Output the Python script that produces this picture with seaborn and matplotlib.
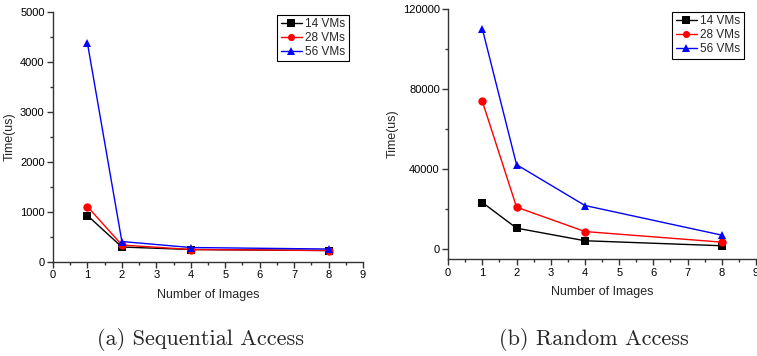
import numpy as np
import pandas as pd
import matplotlib
matplotlib.use("Agg")
import matplotlib.pyplot as plt
from matplotlib.ticker import MultipleLocator
import seaborn as sns

images = [1, 2, 4, 8]
series = ["14 VMs", "28 VMs", "56 VMs"]

# Sequential access, time in us
seq_14 = [930, 300, 250, 230]
seq_28 = [1110, 340, 250, 230]
seq_56 = [4380, 410, 290, 260]

# Random access, time in us
rnd_14 = [23300, 10500, 4200, 1700]
rnd_28 = [73800, 21000, 8800, 3500]
rnd_56 = [110000, 42200, 21800, 7000]

colors = ["#000000", "#ff0000", "#0000ff"]
markers = ["s", "o", "^"]


def long_df(a, b, c):
    rows = []
    for name, vals in zip(series, [a, b, c]):
        for x, y in zip(images, vals):
            rows.append({"images": x, "time": y, "vms": name})
    return pd.DataFrame(rows)


sns.set_style("ticks")
plt.rcParams["font.family"] = ["Liberation Sans", "DejaVu Sans"]

fig = plt.figure(figsize=(7.57, 3.56), dpi=100)
ax1 = fig.add_axes([0.070, 0.264, 0.4095, 0.702])
ax2 = fig.add_axes([0.592, 0.272, 0.4067, 0.703])

panels = [
    (ax1, long_df(seq_14, seq_28, seq_56), (0, 5000), 1000, 500, (0.955, 0.99)),
    (ax2, long_df(rnd_14, rnd_28, rnd_56), (-5000, 120000), 40000, 20000, (0.961, 0.988)),
]

for ax, df, ylim, major, minor, anchor in panels:
    sns.lineplot(data=df, x="images", y="time", hue="vms", style="vms",
                 markers=markers, dashes=False, palette=colors, ax=ax,
                 linewidth=1.0, markersize=6, markeredgewidth=0)
    ax.set_xlim(0, 9)
    ax.set_ylim(*ylim)
    ax.xaxis.set_major_locator(MultipleLocator(1))
    ax.xaxis.set_minor_locator(MultipleLocator(0.5))
    ax.yaxis.set_major_locator(MultipleLocator(major))
    ax.yaxis.set_minor_locator(MultipleLocator(minor))
    ax.tick_params(which="major", direction="out", length=4, width=1,
                   labelsize=8, colors="#333333", labelcolor="black", pad=2)
    ax.tick_params(which="minor", direction="out", length=2, width=1,
                   colors="#333333")
    for s in ["top", "right"]:
        ax.spines[s].set_visible(False)
    for s in ["left", "bottom"]:
        ax.spines[s].set_color("#333333")
        ax.spines[s].set_linewidth(1.0)
    ax.set_xlabel("Number of Images", fontsize=9, labelpad=6)
    ax.set_ylabel("Time(us)", fontsize=9, labelpad=3)
    leg = ax.legend(loc="upper right", bbox_to_anchor=anchor, fontsize=8.5,
                    frameon=True, fancybox=False, framealpha=1,
                    edgecolor="black", handlelength=1.8, handletextpad=0.3,
                    borderpad=0.3, labelspacing=0.15, borderaxespad=0,
                    markerscale=0.85)
    leg.get_frame().set_linewidth(0.8)
    leg.set_title(None)

fig.text(0.265, 0.045, "(a) Sequential Access", ha="center", va="center",
         fontsize=16, family="cmr10")
fig.text(0.785, 0.045, "(b) Random Access", ha="center", va="center",
         fontsize=16, family="cmr10")

fig.savefig("out.png", dpi=100)
